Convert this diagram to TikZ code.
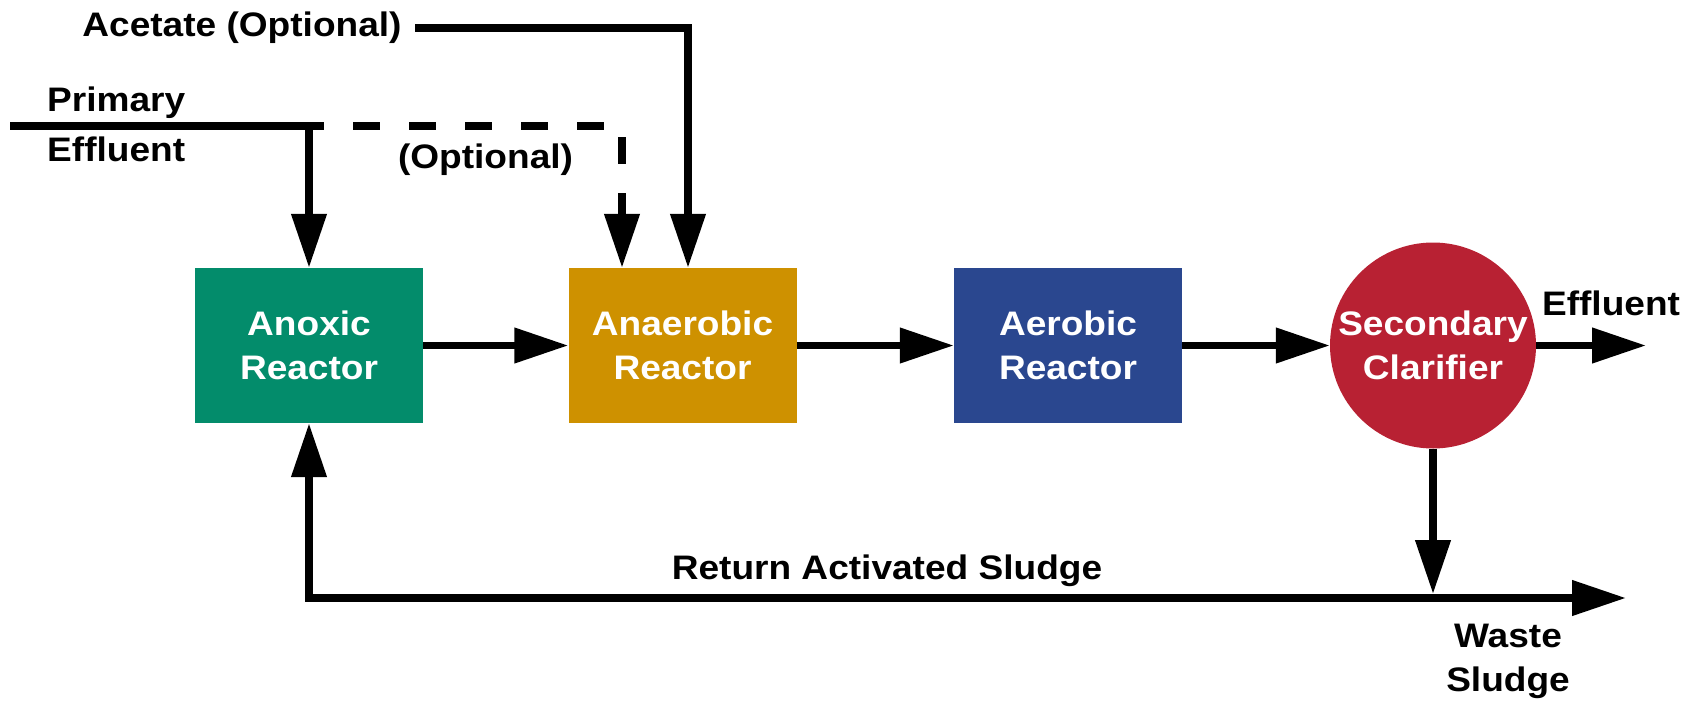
\documentclass[tikz,border=0pt]{standalone}
\usepackage{fontspec}
\setmainfont{Liberation Sans}[FakeStretch=1.09]
\usetikzlibrary{arrows.meta}
\definecolor{anoxicgreen}{RGB}{3,140,107}
\definecolor{anaerobicgold}{RGB}{206,145,0}
\definecolor{aerobicblue}{RGB}{42,71,143}
\definecolor{clarifierred}{RGB}{184,33,51}
\newcommand\lblfont{\fontsize{34}{44}\selectfont\bfseries}
\begin{document}
\begin{tikzpicture}[x=1pt,y=-1pt,
  flow/.style={line width=7.5pt, line join=miter},
  tip/.tip={Triangle[length=54pt,width=34pt]},
  arr/.style={flow, -tip},
  reactor/.style={rectangle, minimum width=228pt, minimum height=155pt,
    inner sep=0pt, text=white, align=center, font=\lblfont},
  lbl/.style={inner sep=0pt, font=\lblfont}]
\useasboundingbox (0,0) rectangle (1693,701);

% process units
\node[reactor, fill=anoxicgreen] (anox) at (309,345.5) {Anoxic\\Reactor};
\node[reactor, fill=anaerobicgold] (anaer) at (682.5,345.5) {Anaerobic\\Reactor};
\node[reactor, fill=aerobicblue] (aer) at (1068,345.5) {Aerobic\\Reactor};
\node[circle, fill=clarifierred, minimum size=206pt, inner sep=0pt,
  text=white, align=center, font=\lblfont] (clar) at (1433,345.5) {Secondary\\Clarifier};

% labels
\node[lbl, anchor=base] (acet) at (242,37) {Acetate (Optional)};
\node[lbl, anchor=west, align=left, font=\fontsize{34}{50}\selectfont\bfseries]
  (prim) at (47,124.5) {Primary\\Effluent};
\node[lbl, anchor=base] (opt) at (485.5,168) {(Optional)};
\node[lbl, anchor=base] (eff) at (1611,315) {Effluent};
\node[lbl, anchor=base] (ras) at (887,579) {Return Activated Sludge};
\node[lbl, align=center] (waste) at (1508,661) {Waste\\Sludge};

% path points
\coordinate (primS) at (10,126);
\coordinate (primE) at (324,126);
\coordinate (primJ) at (309,126);
\coordinate (dashS) at (353,126);
\coordinate (dashC) at (622,126);
\coordinate (acetS) at (415,28);
\coordinate (acetC) at (688,28);
\coordinate (effE) at (1646,345.5);
\coordinate (retL) at (309,598);
\coordinate (retR) at (1626,598);
\coordinate (wasteJ) at (1433,594);

% influent lines
\draw[flow] (primS) -- (primE);
\draw[arr] (primJ) -- (anox.north);
\draw[arr, dash pattern=on 27pt off 29pt] (dashS) -- (dashC) -- (dashC |- anaer.north);
\draw[arr] (acetS) -- (acetC) -- (acetC |- anaer.north);

% main train
\draw[arr] (anox) -- (anaer);
\draw[arr] (anaer) -- (aer);
\draw[arr] (aer.east) -- (clar.west);
\draw[arr] (clar.east) -- (effE);

% sludge lines
\draw[arr] (clar.south) -- (wasteJ);
\draw[flow, tip-tip] (anox.south) -- (retL) -- (retR);
\end{tikzpicture}
\end{document}
